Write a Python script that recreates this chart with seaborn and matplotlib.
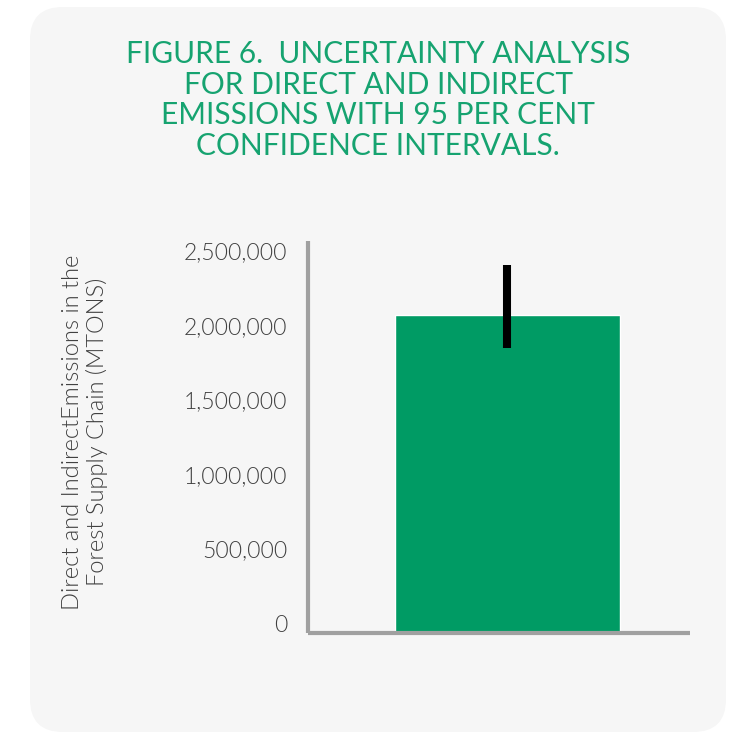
import matplotlib
matplotlib.use("Agg")
import matplotlib.pyplot as plt
import matplotlib.transforms as mtransforms
from matplotlib.patches import FancyBboxPatch
import seaborn as sns
import pandas as pd

# ---- data ----
categories = ["Direct and Indirect Emissions"]
values = [2135000]
ci_low = [1910000]
ci_high = [2470000]
yticks = [0, 500000, 1000000, 1500000, 2000000, 2500000]
ytick_labels = ["0", "500,000", "1,000,000", "1,500,000", "2,000,000", "2,500,000"]
title_text = "FIGURE 6.  UNCERTAINTY ANALYSIS\nFOR DIRECT AND INDIRECT\nEMISSIONS WITH 95 PER CENT\nCONFIDENCE INTERVALS."
ylabel_text = "Direct and IndirectEmissions in the\nForest Supply Chain (MTONS)"

df = pd.DataFrame({"category": categories, "value": values})

sns.set_theme(style="white")
plt.rcParams["font.family"] = ["Lato", "DejaVu Sans"]

W, H = 729, 732
fig = plt.figure(figsize=(W / 100, H / 100), dpi=100, facecolor="white")

# rounded card background
card = FancyBboxPatch((30 / W, 0 / H), (726 - 30) / W, (725 - 0) / H,
                      boxstyle="round,pad=0,rounding_size=0.045",
                      transform=fig.transFigure, facecolor="#f6f6f6",
                      edgecolor="none", zorder=-10, mutation_aspect=W / H)
fig.patches.append(card)

ax = fig.add_axes([308 / W, 1 - 633 / H, (690 - 308) / W, (633 - 241) / H])
ax.set_facecolor("none")
ax.set_zorder(5)

sns.barplot(data=df, x="category", y="value", color="#009B64", saturation=1,
            width=0.8, errorbar=None, ax=ax)
ec = ax.errorbar(x=[0], y=values,
                 yerr=[[v - l for v, l in zip(values, ci_low)],
                       [h - v for v, h in zip(values, ci_high)]],
                 fmt="none", ecolor="black", elinewidth=5.8, capsize=0, zorder=5)
for coll in ec[2]:
    coll.set_capstyle("butt")

ax.set_xlim(-0.709, 0.649)
ax.set_ylim(0, 2630000)
ax.set_yticks(yticks)
ax.set_yticklabels(ytick_labels)
ax.set_xticks([])
ax.set_xlabel("")
ax.set_ylabel("")

for side in ["top", "right"]:
    ax.spines[side].set_visible(False)
for side in ["left", "bottom"]:
    ax.spines[side].set_color("#a0a0a0")
    ax.spines[side].set_linewidth(3.0)
    ax.spines[side].set_capstyle("butt")

ax.tick_params(axis="y", length=0, pad=15, labelsize=16.5, labelcolor="#404040")
shift = mtransforms.ScaledTranslation(0, 7 / 72, fig.dpi_scale_trans)
for lab in ax.get_yticklabels():
    lab.set_fontweight(300)
    lab.set_transform(lab.get_transform() + shift)

fig.text(378 / W, 1 - 100 / H, title_text, ha="center", va="center",
         color="#16A370", fontsize=21.5, linespacing=1.12, multialignment="center")

fig.text(85 / W, 1 - 432 / H, ylabel_text, ha="center", va="center",
         rotation=90, color="#404040", fontsize=17, fontweight=300,
         linespacing=1.12, multialignment="center")

fig.savefig("out.png", dpi=100, facecolor="white")
